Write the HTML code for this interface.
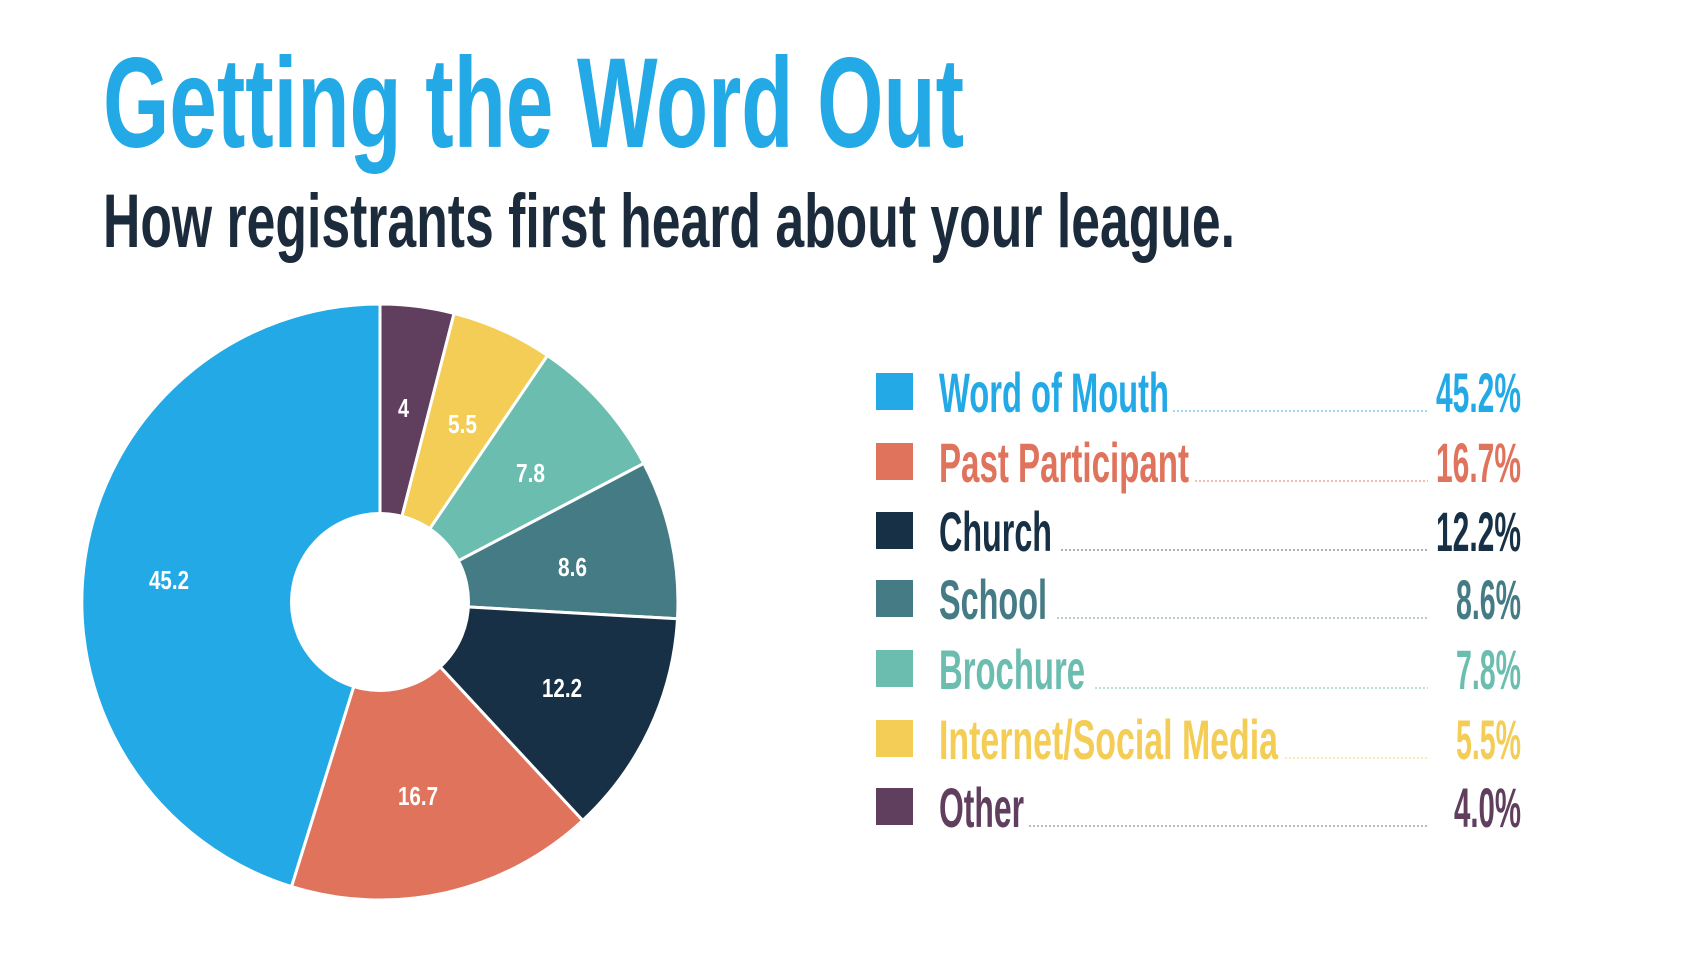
<!DOCTYPE html>
<html><head><meta charset="utf-8"><style>
html,body{margin:0;padding:0;background:#fff;}
svg{display:block;}
text{font-family:"Liberation Sans Narrow","Liberation Sans",sans-serif;font-weight:bold;}
</style></head><body>
<svg width="1700" height="958" viewBox="0 0 1700 958" xmlns="http://www.w3.org/2000/svg">
<text x="103" y="147" font-size="128" fill="#22a9e6" textLength="861" lengthAdjust="spacingAndGlyphs">Getting the Word Out</text>
<text x="103" y="247" font-size="76" fill="#1b2b3b" textLength="1132" lengthAdjust="spacingAndGlyphs">How registrants first heard about your league.</text>

<g transform="translate(-2,-3)">
<g stroke="#fff" stroke-width="3" stroke-linejoin="round">
<path d="M382,605 L382,307 A298,298 0 0 1 456.1,316.4 Z" fill="#603f5e"/>
<path d="M382,605 L456.1,316.4 A298,298 0 0 1 549.5,358.5 Z" fill="#f3cd55"/>
<path d="M382,605 L549.5,358.5 A298,298 0 0 1 645.8,466.4 Z" fill="#6bbdaf"/>
<path d="M382,605 L645.8,466.4 A298,298 0 0 1 679.5,621.8 Z" fill="#457b84"/>
<path d="M382,605 L679.5,621.8 A298,298 0 0 1 584.7,823.5 Z" fill="#183046"/>
<path d="M382,605 L584.7,823.5 A298,298 0 0 1 293.5,889.6 Z" fill="#e0735c"/>
<path d="M382,605 L293.5,889.6 A298,298 0 0 1 382,307 Z" fill="#22a9e6"/>
</g>
<circle cx="382" cy="605" r="90" fill="#fff"/>

<g fill="#fff" font-size="26">
<text x="400" y="420" textLength="11" lengthAdjust="spacingAndGlyphs">4</text>
<text x="450" y="436" textLength="29" lengthAdjust="spacingAndGlyphs">5.5</text>
<text x="518" y="485" textLength="29" lengthAdjust="spacingAndGlyphs">7.8</text>
<text x="560" y="579" textLength="29" lengthAdjust="spacingAndGlyphs">8.6</text>
<text x="544" y="700" textLength="40" lengthAdjust="spacingAndGlyphs">12.2</text>
<text x="400" y="808" textLength="40" lengthAdjust="spacingAndGlyphs">16.7</text>
<text x="151" y="592" textLength="40" lengthAdjust="spacingAndGlyphs">45.2</text>
</g>
</g>

<g font-size="56" transform="translate(-5,-2)">
<rect x="881" y="375" width="37" height="37" fill="#22a9e6"/>
<text x="944" y="414" fill="#22a9e6" textLength="230" lengthAdjust="spacingAndGlyphs">Word of Mouth</text>
<line x1="1178" y1="413" x2="1433" y2="413" stroke="#22a9e6" stroke-width="1.5" stroke-dasharray="2,2" opacity=".6"/>
<text x="1441" y="414" fill="#22a9e6" textLength="85" lengthAdjust="spacingAndGlyphs">45.2%</text>

<rect x="881" y="445" width="37" height="37" fill="#e0735c"/>
<text x="944" y="484" fill="#e0735c" textLength="250" lengthAdjust="spacingAndGlyphs">Past Participant</text>
<line x1="1200" y1="483" x2="1433" y2="483" stroke="#e0735c" stroke-width="1.5" stroke-dasharray="2,2" opacity=".6"/>
<text x="1441" y="484" fill="#e0735c" textLength="85" lengthAdjust="spacingAndGlyphs">16.7%</text>

<rect x="881" y="514" width="37" height="37" fill="#183046"/>
<text x="944" y="553" fill="#183046" textLength="113" lengthAdjust="spacingAndGlyphs">Church</text>
<line x1="1066" y1="552" x2="1433" y2="552" stroke="#183046" stroke-width="1.5" stroke-dasharray="2,2" opacity=".5"/>
<text x="1441" y="553" fill="#183046" textLength="85" lengthAdjust="spacingAndGlyphs">12.2%</text>

<rect x="881" y="582" width="37" height="37" fill="#457b84"/>
<text x="944" y="621" fill="#457b84" textLength="108" lengthAdjust="spacingAndGlyphs">School</text>
<line x1="1062" y1="620" x2="1433" y2="620" stroke="#457b84" stroke-width="1.5" stroke-dasharray="2,2" opacity=".5"/>
<text x="1461" y="621" fill="#457b84" textLength="65" lengthAdjust="spacingAndGlyphs">8.6%</text>

<rect x="881" y="652" width="37" height="37" fill="#6bbdaf"/>
<text x="944" y="691" fill="#6bbdaf" textLength="146" lengthAdjust="spacingAndGlyphs">Brochure</text>
<line x1="1100" y1="690" x2="1433" y2="690" stroke="#6bbdaf" stroke-width="1.5" stroke-dasharray="2,2" opacity=".6"/>
<text x="1461" y="691" fill="#6bbdaf" textLength="65" lengthAdjust="spacingAndGlyphs">7.8%</text>

<rect x="881" y="722" width="37" height="37" fill="#f3cd55"/>
<text x="944" y="761" fill="#f3cd55" textLength="339" lengthAdjust="spacingAndGlyphs">Internet/Social Media</text>
<line x1="1290" y1="760" x2="1433" y2="760" stroke="#f3cd55" stroke-width="1.5" stroke-dasharray="2,2" opacity=".6"/>
<text x="1461" y="761" fill="#f3cd55" textLength="65" lengthAdjust="spacingAndGlyphs">5.5%</text>

<rect x="881" y="790" width="37" height="37" fill="#603f5e"/>
<text x="944" y="829" fill="#603f5e" textLength="85" lengthAdjust="spacingAndGlyphs">Other</text>
<line x1="1034" y1="828" x2="1433" y2="828" stroke="#603f5e" stroke-width="1.5" stroke-dasharray="2,2" opacity=".5"/>
<text x="1459" y="829" fill="#603f5e" textLength="67" lengthAdjust="spacingAndGlyphs">4.0%</text>
</g>
</svg>
</body></html>
